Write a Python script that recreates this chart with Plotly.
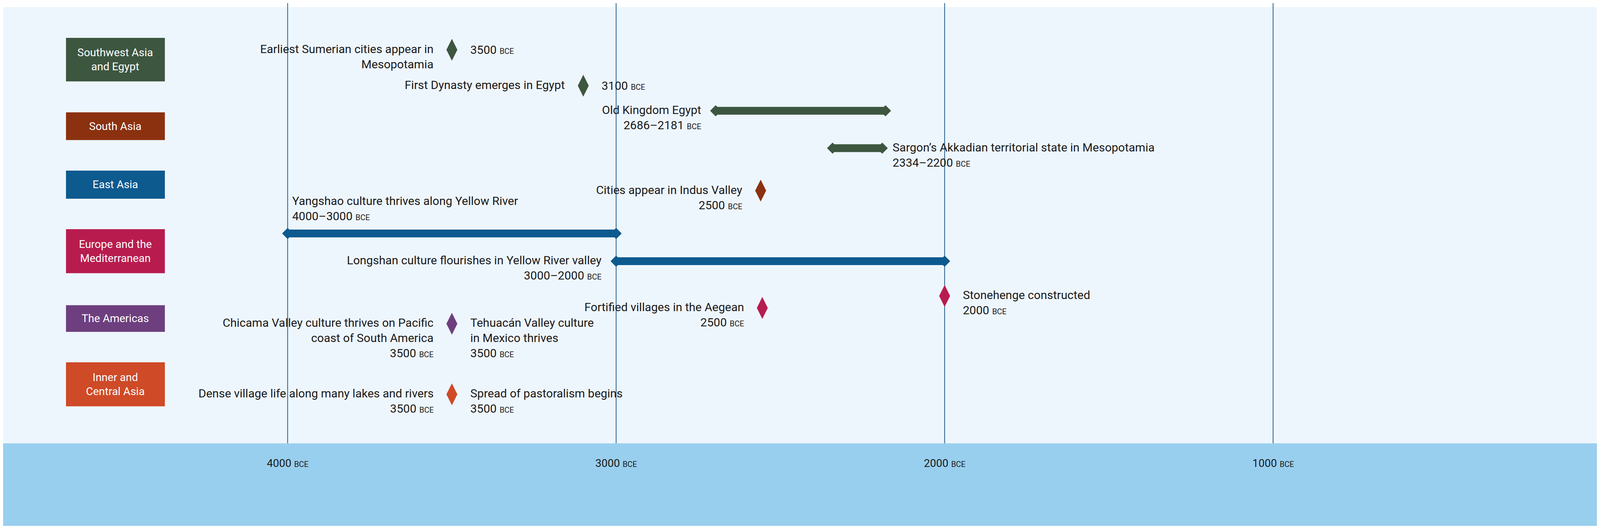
import plotly.graph_objects as go

# Regions (label boxes on the left)
regions = ["Southwest Asia<br>and Egypt", "South Asia", "East Asia",
           "Europe and the<br>Mediterranean", "The Americas", "Inner and<br>Central Asia"]
region_colors = ["#3d5640", "#8b3110", "#0d5a8f", "#b81c4f", "#6e3f7e", "#cf4a27"]
region_top = [90, 283, 434, 586, 783, 931]
region_bottom = [203, 355, 507, 700, 852, 1045]

# Point events: name, date label, year (negative = BCE), lane (px from top), region index
point_names = ["Earliest Sumerian cities appear in<br>Mesopotamia", "First Dynasty emerges in Egypt",
               "Cities appear in Indus Valley", "Stonehenge constructed",
               "Fortified villages in the Aegean",
               "Chicama Valley culture thrives on Pacific<br>coast of South America",
               "Dense village life along many lakes and rivers"]
point_dates = ["3500", "3100", "2500", "2000", "2500", "3500", "3500"]
point_years = [-3500, -3100, -2560, -2000, -2555, -3500, -3500]
point_lanes = [121, 214, 486, 759, 790, 831, 1014]
point_region = [0, 0, 1, 3, 3, 4, 5]

# Extra labels on the right side of shared markers
right_names = ["Tehuacán Valley culture<br>in Mexico thrives", "Spread of pastoralism begins"]
right_dates = ["3500", "3500"]
right_years = [-3500, -3500]
right_lanes = [831, 1014]

# Span events
span_names = ["Old Kingdom Egypt", "Sargon’s Akkadian territorial state in Mesopotamia",
              "Yangshao culture thrives along Yellow River", "Longshan culture flourishes in Yellow River valley"]
span_dates = ["2686–2181", "2334–2200", "4000–3000", "3000–2000"]
span_start = [-2697, -2341, -4000, -3000]
span_end = [-2180, -2190, -3000, -2000]
span_lanes = [279, 376, 597, 669]
span_region = [0, 0, 2, 2]
span_side = ["left", "right", "above", "left"]

tick_years = [-4000, -3000, -2000, -1000]
tick_labels = ["4000", "3000", "2000", "1000"]

FONT = "Roboto"
TXT = "#1a1a1a"
FS = 30
PX = 1.113  # px per year


def bce(d):
    return f"{d} <span style='font-size:20px'>BCE</span>"


fig = go.Figure()
shapes = []
ann = []

# backgrounds
shapes.append(dict(type="rect", xref="paper", yref="y", x0=0, x1=1, y0=10, y1=1141,
                   fillcolor="#eef6fd", line_width=0, layer="below"))
shapes.append(dict(type="rect", xref="paper", yref="y", x0=0, x1=1, y0=1141, y1=1355,
                   fillcolor="#99cfee", line_width=0, layer="below"))
for t, lab in zip(tick_years, tick_labels):
    shapes.append(dict(type="line", x0=t, x1=t, y0=0, y1=1141, line=dict(color="#1f5f8f", width=2),
                       layer="below"))
    ann.append(dict(x=t, y=1193, text=bce(lab), showarrow=False, xanchor="center", yanchor="middle",
                    font=dict(size=FS - 2, color=TXT)))

# region boxes
for name, c, y0, y1 in zip(regions, region_colors, region_top, region_bottom):
    shapes.append(dict(type="rect", xref="paper", yref="y", x0=213 / 5400, x1=548 / 5400, y0=y0, y1=y1,
                       fillcolor=c, line_width=0))
    ann.append(dict(xref="paper", x=380 / 5400, y=(y0 + y1) / 2, text=name, showarrow=False,
                    xanchor="center", yanchor="middle",
                    font=dict(size=FS - 2, color="white"), align="center"))

# spans
for i in range(len(span_names)):
    c = region_colors[span_region[i]]
    fig.add_trace(go.Scatter(x=[span_start[i], span_end[i]], y=[span_lanes[i]] * 2, mode="lines+markers",
                             line=dict(color=c, width=20),
                             marker=dict(symbol="diamond", size=22, color=c), hoverinfo="skip"))
    txt = span_names[i] + "<br>" + bce(span_dates[i])
    if span_side[i] == "left":
        ann.append(dict(x=span_start[i], xshift=-35, y=span_lanes[i] - 22, text=txt, showarrow=False,
                        xanchor="right", yanchor="top", align="right", font=dict(size=FS, color=TXT)))
    elif span_side[i] == "right":
        ann.append(dict(x=span_end[i], xshift=25, y=span_lanes[i] - 22, text=txt, showarrow=False,
                        xanchor="left", yanchor="top", align="left", font=dict(size=FS, color=TXT)))
    else:
        ann.append(dict(x=span_start[i], xshift=10, y=span_lanes[i] - 25, text=txt, showarrow=False,
                        xanchor="left", yanchor="bottom", align="left", font=dict(size=FS, color=TXT)))

# points
for i in range(len(point_names)):
    c = region_colors[point_region[i]]
    fig.add_trace(go.Scatter(x=[point_years[i]], y=[point_lanes[i]], mode="markers",
                             marker=dict(symbol="diamond-tall", size=40, color=c), hoverinfo="skip"))
    if i in (0, 1):
        ann.append(dict(x=point_years[i], xshift=-45, y=point_lanes[i] - 22, text=point_names[i],
                        showarrow=False, xanchor="right", yanchor="top", align="right",
                        font=dict(size=FS, color=TXT)))
        ann.append(dict(x=point_years[i], xshift=45, y=point_lanes[i], text=bce(point_dates[i]),
                        showarrow=False, xanchor="left", yanchor="middle", font=dict(size=FS, color=TXT)))
    elif i == 3:
        ann.append(dict(x=point_years[i], xshift=45, y=point_lanes[i] - 22,
                        text=point_names[i] + "<br>" + bce(point_dates[i]), showarrow=False,
                        xanchor="left", yanchor="top", align="left", font=dict(size=FS, color=TXT)))
    else:
        ann.append(dict(x=point_years[i], xshift=-45, y=point_lanes[i] - 22,
                        text=point_names[i] + "<br>" + bce(point_dates[i]), showarrow=False,
                        xanchor="right", yanchor="top", align="right", font=dict(size=FS, color=TXT)))

for n, d, x, y in zip(right_names, right_dates, right_years, right_lanes):
    ann.append(dict(x=x, xshift=45, y=y - 22, text=n + "<br>" + bce(d), showarrow=False,
                    xanchor="left", yanchor="top", align="left", font=dict(size=FS, color=TXT)))

x0 = -4000 - 964 / PX
x1 = -4000 + (5400 - 964) / PX
fig.update_layout(
    autosize=True, margin=dict(l=0, r=0, t=0, b=0),
    paper_bgcolor="white", plot_bgcolor="rgba(0,0,0,0)", showlegend=False,
    font=dict(family=FONT, color=TXT),
    xaxis=dict(range=[x0, x1], visible=False, fixedrange=True),
    yaxis=dict(range=[1355, 0], visible=False, fixedrange=True),
    shapes=shapes, annotations=ann,
)

fig.write_html("out.html", config=dict(responsive=True))
